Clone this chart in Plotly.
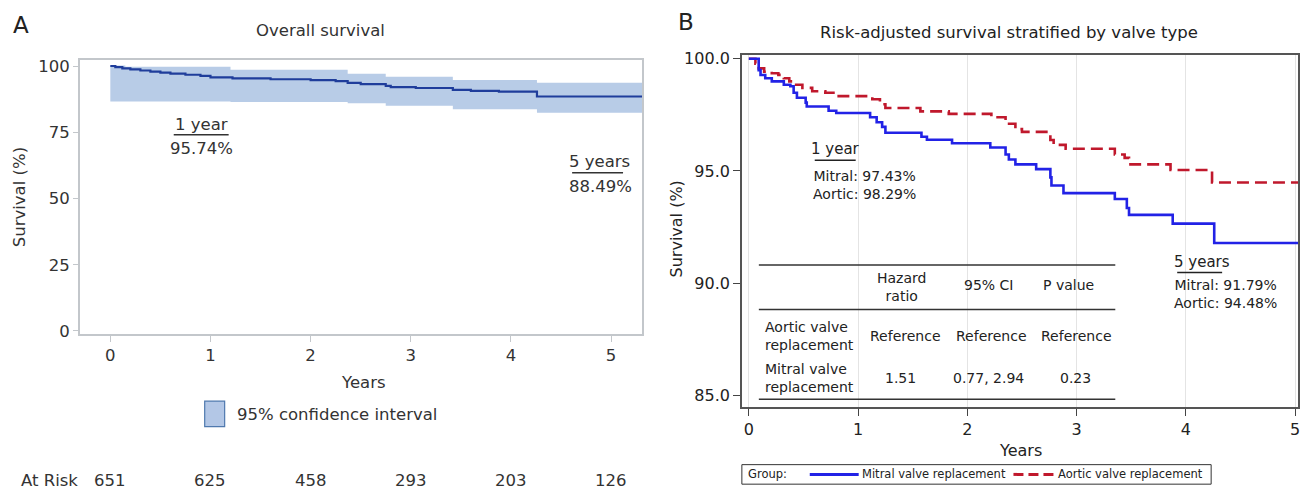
import plotly.graph_objects as go

# ---------------- data ----------------
# Panel A: overall Kaplan-Meier survival (%)
km_time = [0, 0.05, 0.12, 0.2, 0.3, 0.4, 0.5, 0.6, 0.75, 0.9, 1.0, 1.22, 1.6, 2.0,
           2.25, 2.37, 2.5, 2.75, 2.8, 3.05, 3.42, 3.6, 3.88, 4.26]
km_surv = [100, 99.6, 99.1, 98.7, 98.3, 97.9, 97.5, 97.1, 96.7, 96.3, 95.74, 95.3, 95.0, 94.7,
           94.3, 93.6, 93.2, 92.5, 92.0, 91.7, 91.0, 90.6, 90.3, 88.49]
ci_time = [0, 0.15, 1.2, 2.37, 2.75, 3.42, 4.26]
ci_upper = [100.2, 99.7, 98.6, 97.1, 95.9, 94.7, 93.7]
ci_lower = [86.6, 86.6, 86.4, 85.9, 85.0, 83.7, 82.4]
a_end = 5.31
at_risk_years = [0, 1, 2, 3, 4, 5]
at_risk = [651, 625, 458, 293, 203, 126]

# Panel B: risk-adjusted survival by valve type (%)
mitral_time = [0, 0.09, 0.107, 0.15, 0.21, 0.32, 0.38, 0.41, 0.44, 0.52, 0.53, 0.73, 0.8,
               1.11, 1.17, 1.22, 1.25, 1.58, 1.63, 1.86, 2.21, 2.35, 2.38, 2.44, 2.63, 2.76,
               2.77, 2.88, 3.35, 3.46, 3.48, 3.88, 4.26]
mitral_surv = [100, 99.49, 99.27, 99.13, 98.99, 98.84, 98.77, 98.48, 98.26, 98.04, 97.87, 97.68, 97.58,
               97.39, 97.17, 96.96, 96.70, 96.52, 96.39, 96.23, 96.04, 95.73, 95.51, 95.29, 95.08, 94.71,
               94.35, 94.01, 93.75, 93.35, 93.04, 92.65, 91.79]
aortic_time = [0, 0.06, 0.09, 0.14, 0.21, 0.27, 0.32, 0.37, 0.41, 0.49, 0.58, 0.70, 0.79,
               1.13, 1.20, 1.25, 1.57, 1.83, 2.22, 2.35, 2.44, 2.50, 2.76, 2.79, 2.90,
               3.35, 3.44, 3.48, 3.86, 4.24]
aortic_surv = [100, 99.78, 99.57, 99.42, 99.35, 99.28, 99.13, 98.99, 98.84, 98.70, 98.55, 98.48, 98.33,
               98.19, 97.97, 97.80, 97.65, 97.54, 97.39, 97.10, 96.86, 96.74, 96.38, 96.16, 95.99,
               95.73, 95.58, 95.29, 95.04, 94.48]
b_end = 5.03

table_header = ["Hazard<br>ratio", "95% CI", "P value"]
table_rows = ["Aortic valve<br>replacement", "Mitral valve<br>replacement"]
table_cells = [["Reference", "Reference", "Reference"], ["1.51", "0.77, 2.94", "0.23"]]

# ---------------- layout helpers ----------------
W, H = 1309, 498
FONT = "DejaVu Sans"


def px(x, y):
    return x / W, 1 - y / H


fig = go.Figure()

# ---- Panel A traces ----
fig.add_trace(go.Scatter(x=ci_time + [a_end], y=ci_lower + [ci_lower[-1]], mode="lines",
                         line=dict(width=0, shape="hv"), showlegend=False, hoverinfo="skip",
                         xaxis="x", yaxis="y"))
fig.add_trace(go.Scatter(x=ci_time + [a_end], y=ci_upper + [ci_upper[-1]], mode="lines",
                         line=dict(width=0, shape="hv"), fill="tonexty", fillcolor="#b8cce7",
                         showlegend=False, name="95% confidence interval", xaxis="x", yaxis="y"))
fig.add_trace(go.Scatter(x=km_time + [a_end], y=km_surv + [km_surv[-1]], mode="lines",
                         line=dict(color="#1f3d9b", width=2.2, shape="hv"), showlegend=False,
                         xaxis="x", yaxis="y"))

# ---- Panel B traces ----
fig.add_trace(go.Scatter(x=aortic_time + [b_end], y=aortic_surv + [aortic_surv[-1]], mode="lines",
                         line=dict(color="#c0182c", width=2.6, shape="hv", dash="12px,6px"),
                         showlegend=False, name="Aortic valve replacement", xaxis="x2", yaxis="y2"))
fig.add_trace(go.Scatter(x=mitral_time + [b_end], y=mitral_surv + [mitral_surv[-1]], mode="lines",
                         line=dict(color="#2222e6", width=2.6, shape="hv"),
                         showlegend=False, name="Mitral valve replacement", xaxis="x2", yaxis="y2"))

axA_font = dict(family=FONT, size=16.5, color="#333")
axB_font = dict(family=FONT, size=16, color="#222")

fig.update_layout(
    width=W, height=H, margin=dict(l=0, r=0, t=0, b=0), autosize=False,
    paper_bgcolor="white", plot_bgcolor="white", showlegend=False,
    font=dict(family=FONT, color="#222"),
    xaxis=dict(domain=[80 / W, 643 / W], range=[-0.304, 5.309], anchor="y",
               tickvals=[0, 1, 2, 3, 4, 5], showgrid=False, zeroline=False,
               showline=True, mirror=True, linecolor="#c3c7cb", linewidth=1.5,
               ticks="outside", ticklen=6, tickcolor="#c3c7cb", tickfont=axA_font),
    yaxis=dict(domain=[1 - 337 / H, 1 - 56 / H], range=[-1.1, 102.4], anchor="x",
               tickvals=[0, 25, 50, 75, 100], showgrid=False, zeroline=False,
               showline=True, mirror=True, linecolor="#c3c7cb", linewidth=1.5,
               ticks="outside", ticklen=5, tickcolor="#c3c7cb", tickfont=axA_font),
    xaxis2=dict(domain=[743 / W, 1300 / W], range=[-0.064, 5.027], anchor="y2",
                tickvals=[0, 1, 2, 3, 4, 5], showgrid=True, gridcolor="#e4e4e4", gridwidth=1,
                zeroline=False, showline=True, mirror=True, linecolor="#555", linewidth=1.5,
                ticks="outside", ticklen=7, tickcolor="#444", tickfont=axB_font),
    yaxis2=dict(domain=[1 - 412 / H, 1 - 51 / H], range=[84.478, 100.174], anchor="x2",
                tickvals=[85, 90, 95, 100], tickformat=".1f", showgrid=False, zeroline=False,
                showline=True, mirror=True, linecolor="#555", linewidth=1.5,
                ticks="outside", ticklen=7, tickcolor="#444", tickfont=axB_font),
)

ann = []
shapes = []


def text(x, y, s, size, xanchor="center", color="#222", angle=0, xref="paper"):
    if xref == "paper":
        xx, yy = px(x, y)
    else:
        xx, yy = x, px(0, y)[1]
    ann.append(dict(x=xx, y=yy, xref=xref, yref="paper", text=s, showarrow=False,
                    xanchor=xanchor, yanchor="middle", textangle=angle,
                    font=dict(family=FONT, size=size, color=color)))


def hline(x0, x1, y, color="#333", width=1.5, dash=None):
    a0, b0 = px(x0, y)
    a1, _ = px(x1, y)
    line = dict(color=color, width=width)
    if dash:
        line["dash"] = dash
    shapes.append(dict(type="line", xref="paper", yref="paper", x0=a0, x1=a1, y0=b0, y1=b0,
                       line=line))


# ---- Panel A decorations ----
text(21, 21, "A", 23, color="#222")
text(321, 26, "Overall survival", 16.5, color="#333")
text(19, 197, "Survival (%)", 16.5, color="#333", angle=-90)
text(364, 387, "Years", 16.5, color="#333")
text(202, 122, "1 year", 16.5, color="#333")
hline(174, 229, 133, color="#333", width=1.5)
text(202, 147, "95.74%", 16.5, color="#333")
text(600, 160, "5 years", 16.5, color="#333")
hline(573, 624, 172, color="#333", width=1.5)
text(601, 186, "88.49%", 16.5, color="#333")
sx0, sy0 = px(205, 432)
sx1, sy1 = px(225, 406)
shapes.append(dict(type="rect", xref="paper", yref="paper", x0=sx0, x1=sx1, y0=sy0, y1=sy1,
                   fillcolor="#b3c7e6", line=dict(color="#4f79ae", width=1.2)))
text(235, 420, "95% confidence interval", 16.5, xanchor="left", color="#333")
text(19, 487, "At Risk", 16.5, xanchor="left", color="#333")
for t, n in zip(at_risk_years, at_risk):
    text(t, 487, str(n), 16.5, color="#333", xref="x")

# ---- Panel B decorations ----
text(687, 17, "B", 23, color="#222")
text(1011, 28, "Risk-adjusted survival stratified by valve type", 16.5, color="#222")
text(678, 229, "Survival (%)", 16, color="#222", angle=-90)
text(1022, 456, "Years", 16, color="#222")

text(810, 148, "1 year", 15, xanchor="left")
hline(816, 857, 159, color="#222", width=1.5)
text(812, 184, "Mitral: 97.43%<br>Aortic: 98.29%", 14, xanchor="left")
text(1174, 263, "5 years", 15, xanchor="left")
hline(1179, 1224, 274, color="#222", width=1.5)
text(1174, 296, "Mitral: 91.79%<br>Aortic: 94.48%", 14, xanchor="left")

# table
hline(760, 1117, 266.5, color="#333", width=1.5)
hline(760, 1117, 312, color="#333", width=1.5)
hline(760, 1117, 404, color="#333", width=1.5)
header_x = [903, 990, 1070]
header_y = [289, 287, 287]
for hx, hy, h in zip(header_x, header_y, table_header):
    text(hx, hy, h, 14)
cell_x = [[907, 993, 1078], [902, 990, 1077]]
row_y = [339, 382.5]
for r, (label, ry) in enumerate(zip(table_rows, row_y)):
    ann.append(dict(x=px(764, ry)[0], y=px(764, ry)[1], xref="paper", yref="paper", text=label,
                    showarrow=False, xanchor="left", yanchor="middle", align="left",
                    font=dict(family=FONT, size=14, color="#222")))
    for cx, c in zip(cell_x[r], table_cells[r]):
        text(cx, ry, c, 14)

# legend box B
lx0, ly0 = px(743, 491)
lx1, ly1 = px(1213, 471)
shapes.append(dict(type="rect", xref="paper", yref="paper", x0=lx0, x1=lx1, y0=ly0, y1=ly1,
                   line=dict(color="#333", width=1), fillcolor="rgba(0,0,0,0)"))
text(747, 481, "Group:", 11.5, xanchor="left")
hline(811, 860, 481, color="#2222e6", width=3)
text(861, 481, "Mitral valve replacement", 11.5, xanchor="left")
hline(1015, 1058, 481, color="#c0182c", width=3, dash="10px,5px")
text(1058, 481, "Aortic valve replacement", 11.5, xanchor="left")

fig.update_layout(annotations=ann, shapes=shapes)
fig.write_html("out.html", config={"displayModeBar": False},
               post_script="document.body.style.margin='0';document.body.style.overflow='hidden';")
